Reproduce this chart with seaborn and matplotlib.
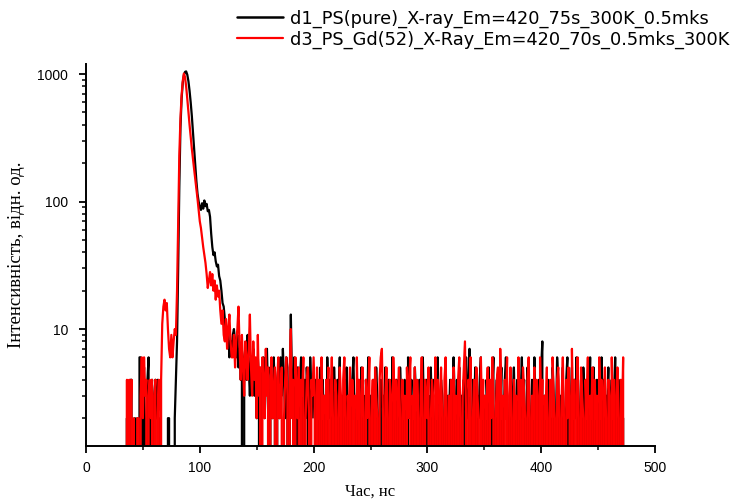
import numpy as np
import pandas as pd
import matplotlib
matplotlib.use("Agg")
import matplotlib.pyplot as plt
import matplotlib.ticker as mticker
from matplotlib.lines import Line2D
import seaborn as sns

# ---------------- data (counts per 1 ns channel) ----------------
t_start = 35  # ns, first channel shown

black_rise = [0, 2, 0, 0, 4, 4, 0, 0, 2, 0, 2, 0, 6, 6, 0, 3, 5, 0, 2, 4,
              6, 0, 3, 4, 0, 3, 4, 2, 4, 0, 2, 0, 0, 0, 0, 0, 0, 2, 2, 0,
              0, 0, 0, 2, 4,
              8, 30, 130, 380, 640, 850, 980, 1040, 1050, 990, 880, 740, 600,
              470, 350, 260, 190, 145, 115, 100, 90, 86, 97, 88, 102, 92, 96,
              84, 86, 76, 56, 44, 38, 40, 34, 31, 32, 26, 24, 20, 16, 15, 12]

black_tail = [9, 8, 10, 6, 8, 7, 9, 10, 8, 6, 9, 5, 7, 4, 8, 0, 6, 7, 4, 9,
              5, 3, 6, 4, 7, 3, 5, 2, 6, 4, 0, 5, 3, 6, 2, 4, 7, 3, 0, 5,
              4, 2, 6, 3, 0, 4, 5, 2, 6, 3, 7, 4, 2, 6, 5, 0, 3, 13, 4, 2,
              6, 3, 0, 5, 2, 4, 6, 3, 0, 4, 2, 5, 3, 0, 6, 2, 4, 3,
              2, 4, 0, 3, 2, 5, 0, 4, 2, 3, 0, 6, 2, 4, 3, 0, 2, 5, 3, 0,
              4, 2, 6, 0, 3, 2, 4, 0, 5, 2, 3, 0, 2, 4, 6, 2, 0, 3, 4, 2,
              0, 5, 2, 3, 0, 4, 2, 6, 0, 3, 2, 0, 4, 2, 5, 3, 0, 2, 4, 0,
              3, 2, 5, 0, 2, 4, 3, 0, 6, 2, 0, 3, 4, 2, 0, 5, 2, 3, 0, 4,
              2, 0, 6, 3, 2, 4, 0, 2, 5, 3, 0, 2, 4, 0, 3, 6, 2, 0, 4, 2,
              3, 0, 5, 2, 4, 0, 2, 3, 6, 0, 2, 4, 3, 0, 2, 5, 0, 3, 2, 4,
              0, 2, 6, 3, 0, 4, 2, 5, 0, 3, 2, 4, 0, 6, 2, 3, 7, 2, 0, 4,
              2, 5, 0, 3, 2, 4, 6, 0, 2, 3, 0, 4, 2, 5, 0, 2, 3, 6, 0, 2,
              4, 0, 3, 2, 5, 0, 2, 4, 6, 3, 0, 2, 4, 0, 3, 5, 2, 0, 4, 2,
              0, 3, 6, 2, 4, 0, 2, 5, 3, 0, 2, 4, 0, 6, 2, 3, 0, 4, 2, 5,
              8, 0, 3, 2, 0, 4, 0, 2, 0, 5, 3, 0, 2, 6, 4, 0, 3, 2, 5, 0,
              2, 4, 6, 0, 3, 2, 5, 0, 4, 2, 6, 3, 0, 2, 4, 0, 5, 2, 3, 0,
              4, 2, 6, 0, 3, 5, 2, 0, 4, 3, 2, 0, 6, 2, 4, 0, 3, 2, 5, 0,
              2, 4, 0, 3, 6, 2, 0, 4, 2, 3, 0, 2]

red_rise = [0, 4, 0, 4, 2, 4, 0, 2, 0, 0, 2, 2, 0, 3, 6, 2, 6, 3, 4, 0,
            3, 4, 2, 4, 0, 3, 4, 0, 2, 4, 0, 4, 11, 15, 17, 14, 16, 10, 7, 6,
            9, 6, 8, 10, 9,
            20, 70, 230, 450, 680, 880, 1010, 950, 800, 640, 500, 400, 320,
            260, 215, 180, 150, 125, 105, 85, 70, 62, 52, 44, 38, 33, 27, 21,
            24, 28, 22, 27, 20, 24, 17, 22, 18, 20, 14, 11, 14, 9, 8]

red_tail = [12, 7, 10, 13, 8, 6, 6, 9, 5, 8, 10, 15, 7, 4, 9, 5, 3, 8, 6, 4,
            7, 13, 5, 3, 8, 4, 6, 2, 9, 3, 5, 0, 6, 4, 2, 7, 3, 5, 0, 4,
            6, 2, 3, 5, 0, 4, 6, 2, 3, 5, 0, 2, 4, 6, 3, 0, 5, 10, 2, 4,
            0, 6, 3, 2, 5, 0, 4, 3, 6, 0, 2, 4, 5, 2, 0, 4, 3, 6,
            3, 0, 5, 2, 4, 0, 6, 2, 3, 0, 4, 2, 5, 0, 3, 6, 2, 0, 4, 3,
            0, 2, 5, 3, 0, 4, 6, 2, 0, 3, 2, 5, 0, 4, 2, 3, 0, 6, 2, 4,
            0, 3, 5, 2, 0, 4, 2, 3, 6, 0, 2, 4, 0, 5, 3, 2, 0, 4, 6, 7,
            2, 0, 3, 5, 2, 0, 4, 3, 0, 6, 2, 4, 0, 3, 5, 2, 0, 4, 2, 3,
            0, 5, 2, 4, 6, 0, 3, 2, 5, 0, 4, 2, 0, 3, 6, 2, 0, 4, 3, 2,
            5, 0, 2, 4, 3, 0, 6, 2, 4, 0, 3, 5, 2, 0, 4, 6, 2, 0, 3, 2,
            4, 0, 5, 2, 3, 0, 4, 6, 2, 0, 3, 5, 8, 2, 0, 4, 3, 6, 0, 2,
            4, 0, 5, 3, 2, 0, 6, 2, 4, 0, 3, 2, 5, 0, 4, 2, 6, 3, 0, 2,
            4, 5, 0, 7, 2, 3, 0, 4, 2, 6, 0, 3, 5, 2, 0, 4, 2, 3, 0, 6,
            2, 4, 0, 5, 3, 2, 0, 4, 6, 2, 0, 3, 2, 5, 0, 4, 3, 0, 6, 2,
            4, 0, 3, 2, 5, 0, 2, 4, 0, 6, 3, 2, 0, 4, 5, 2, 0, 3, 6, 2,
            0, 4, 2, 5, 3, 0, 7, 2, 4, 0, 3, 6, 2, 0, 5, 3, 2, 0, 4, 2,
            6, 0, 3, 2, 5, 0, 4, 2, 3, 0, 6, 2, 4, 0, 3, 5, 2, 0, 4, 3,
            0, 6, 2, 4, 0, 3, 5, 2, 0, 4, 2, 6, 0]

label_black = "d1_PS(pure)_X-ray_Em=420_75s_300K_0.5mks"
label_red = "d3_PS_Gd(52)_X-Ray_Em=420_70s_0.5mks_300K"
x_label = "Час, нс"
y_label = "Інтенсивність, відн. од."
x_ticks = [0, 100, 200, 300, 400, 500]
y_ticks = [10, 100, 1000]

# ---------------- build table ----------------
black_counts = black_rise + black_tail
red_counts = red_rise + red_tail
df_black = pd.DataFrame({"t": t_start + np.arange(len(black_counts)),
                         "I": black_counts, "series": label_black})
df_red = pd.DataFrame({"t": t_start + np.arange(len(red_counts)),
                       "I": red_counts, "series": label_red})
df = pd.concat([df_black, df_red], ignore_index=True)

# ---------------- plot ----------------
sns.set_style("white")
plt.rcParams["font.family"] = ["Liberation Sans", "DejaVu Sans"]
plt.rcParams["text.color"] = "black"
plt.rcParams["axes.labelcolor"] = "black"
plt.rcParams["xtick.color"] = "black"
plt.rcParams["ytick.color"] = "black"

fig = plt.figure(figsize=(7.54, 5.01), dpi=100)
ax = fig.add_axes([86 / 754, 1 - 446 / 501, (655 - 86) / 754, (446 - 64) / 501])

sns.lineplot(data=df, x="t", y="I", hue="series",
             palette={label_black: "#000000", label_red: "#ff0000"},
             estimator=None, sort=False, linewidth=1.6, ax=ax, legend=False)

ax.set_yscale("log")
ax.set_xlim(0, 500)
ax.set_ylim(1.21, 1200)

ax.set_xticks(x_ticks)
ax.xaxis.set_minor_locator(mticker.MultipleLocator(50))
ax.set_yticks(y_ticks)
ax.yaxis.set_major_formatter(mticker.FixedFormatter([str(v) for v in y_ticks]))
ax.yaxis.set_minor_locator(mticker.LogLocator(base=10, subs=np.arange(2, 10)))
ax.yaxis.set_minor_formatter(mticker.NullFormatter())

for s in ["top", "right"]:
    ax.spines[s].set_visible(False)
for s in ["left", "bottom"]:
    ax.spines[s].set_color("black")
    ax.spines[s].set_linewidth(1.4)

ax.tick_params(which="major", direction="out", length=5, width=1.3,
               labelsize=10, color="black", labelcolor="black")
ax.tick_params(which="minor", direction="out", length=3, width=1.1, color="black")
ax.tick_params(axis="x", which="both", bottom=True, pad=6)
ax.tick_params(axis="y", which="both", left=True, pad=8)

ax.set_xlabel(x_label, family=["Liberation Serif", "DejaVu Serif"], fontsize=12,
              labelpad=6, color="black")
ax.set_ylabel(y_label, family=["Liberation Serif", "DejaVu Serif"], fontsize=13.5,
              labelpad=9, color="black")

handles = [Line2D([], [], color="black", lw=1.8), Line2D([], [], color="#ff0000", lw=1.6)]
leg = fig.legend(handles, [label_black, label_red], loc="upper left",
                 bbox_to_anchor=(233 / 754, 1 - 6 / 501), frameon=False,
                 prop={"family": "DejaVu Sans", "size": 12.8},
                 handlelength=2.6, handletextpad=0.4,
                 labelspacing=0.15, borderaxespad=0, borderpad=0.2)
for txt in leg.get_texts():
    txt.set_color("black")

fig.savefig("out.png", dpi=100)
